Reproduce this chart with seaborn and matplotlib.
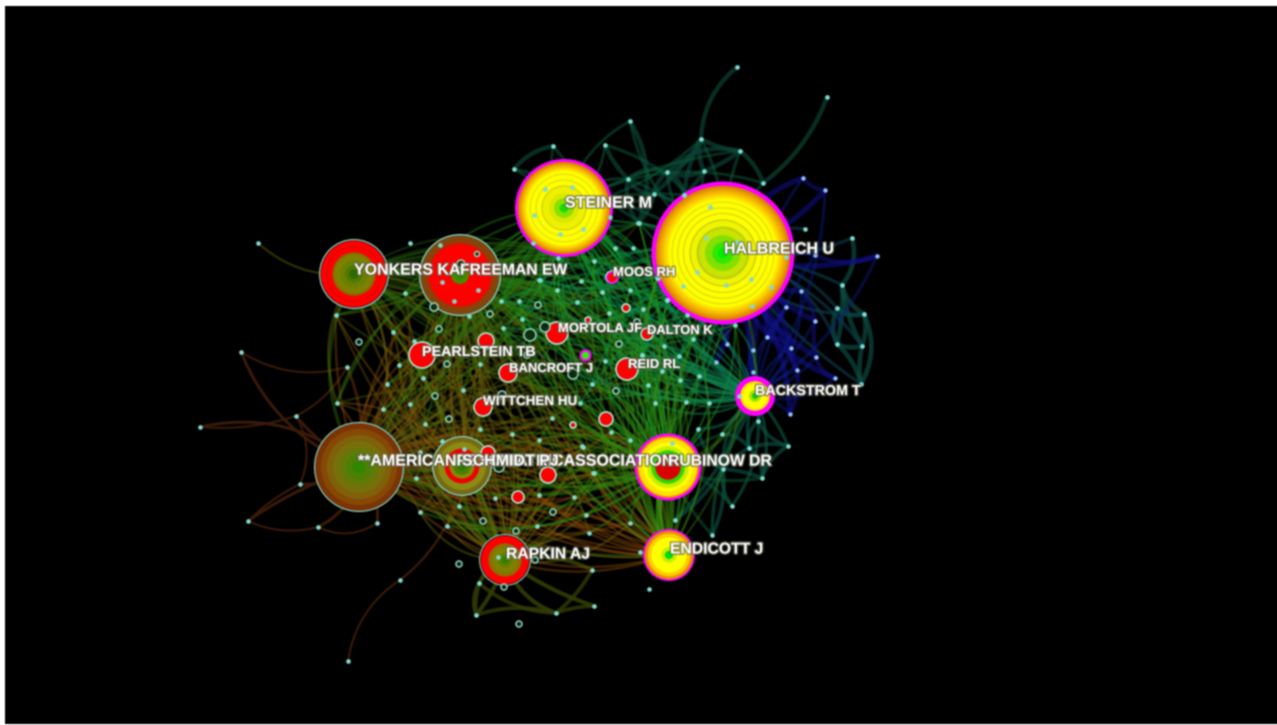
import numpy as np
import pandas as pd
import matplotlib
matplotlib.use('Agg')
import matplotlib.pyplot as plt
import matplotlib.patheffects as pe
import seaborn as sns

# big nodes
hub_names = ['halbreich', 'steiner', 'yonkers', 'freeman', 'american',
             'schmidt', 'rapkin', 'rubinow', 'endicott', 'backstrom']
hub_x = [723, 564, 354, 460, 359, 462, 505, 668, 669, 755]
hub_y = [253, 208, 274, 275, 467, 466, 560, 467, 555, 396]
hub_r = [71.5, 49, 35, 41, 45, 30, 26, 33.5, 26, 20]

MAG = '#ff00ff'
CYN = '#86dcd6'
hub_rings = {
    'halbreich': [(1, MAG), (.94, '#d88400'), (.91, '#e89800'), (.88, '#f2ac00'), (.85, '#f8c000'), (.82, '#fcd400'),
                  (.79, '#ffe800'), (.76, '#ffff00'), (.72, '#dcdc10'), (.705, '#ffff00'), (.64, '#d8d810'),
                  (.625, '#ffff00'), (.56, '#d4d410'), (.545, '#ffff00'), (.47, '#ccd010'), (.45, '#f0f400'),
                  (.37, '#bcd010'), (.34, '#c8e400'), (.25, '#84e000'), (.15, '#30e800'), (.07, '#00ee00')],
    'steiner': [(1, MAG), (.94, '#d88400'), (.91, '#e89800'), (.88, '#f2ac00'), (.85, '#f8c000'), (.82, '#fcd400'),
                (.79, '#ffe800'), (.76, '#ffff00'), (.7, '#dcdc10'), (.68, '#ffff00'), (.58, '#d8d810'),
                (.56, '#ffff00'), (.46, '#c8c810'), (.44, '#eef000'), (.3, '#d8e800'), (.2, '#88e000'), (.09, '#10e000')],
    'yonkers': [(1, CYN), (.965, '#6a0000'), (.94, '#ff0000'), (.8, '#e80000'), (.76, '#ff0000'),
                (.62, '#8a6a00'), (.56, '#808000'), (.4, '#6c8000'), (.25, '#4f7a00'), (.14, '#2f6a00')],
    'freeman': [(1, CYN), (.97, '#7a4a12'), (.88, '#8e4008'), (.78, '#e01000'), (.73, '#ff0000'),
                (.22, '#4a8a00'), (.12, '#2f8a00')],
    'american': [(1, CYN), (.975, '#7a3405'), (.85, '#864805'), (.72, '#80600a'), (.58, '#76700a'),
                 (.42, '#607a08'), (.28, '#4c8004'), (.14, '#2f8800')],
    'schmidt': [(1, CYN), (.96, '#786a14'), (.8, '#8a8a14'), (.58, '#f00000'), (.42, '#8a8a00'),
                (.3, '#4a8000'), (.15, '#2a7800')],
    'rapkin': [(1, CYN), (.96, '#300000'), (.93, '#ff0000'), (.64, '#8a7000'), (.5, '#808000'),
               (.28, '#5c8000'), (.14, '#2f8000')],
    'rubinow': [(1, MAG), (.92, '#f09800'), (.87, '#ffe000'), (.74, '#ffff00'), (.62, '#c8ee00'),
                (.5, '#30d800'), (.38, '#e00000'), (.3, '#d80000')],
    'endicott': [(1, MAG), (.93, '#e89000'), (.82, '#ffcc00'), (.68, '#ffff00'), (.3, '#c8f000'), (.16, '#00e000')],
    'backstrom': [(1, MAG), (.74, '#ffe000'), (.62, '#ffff00'), (.3, '#b0e000'), (.15, '#00d800')],
}

# medium red nodes
red_x = [422, 486, 508, 483, 557, 627, 606, 548, 518, 488, 647, 626, 588, 573, 612]
red_y = [355, 341, 373, 407, 333, 369, 419, 475, 497, 453, 334, 308, 320, 425, 277]
red_r = [13, 8, 9, 9, 11, 11, 7, 8, 6, 7, 6, 4, 3, 3, 6]

# small ring nodes
ring_x = [477, 461, 434, 490, 538, 439, 359, 530, 545, 447, 435, 502, 449, 573, 527, 637, 619, 616,
          499, 553, 483, 516, 459, 535, 504, 519]
ring_y = [254, 264, 307, 314, 305, 329, 342, 335, 327, 364, 396, 395, 419, 374, 355, 322, 344, 391,
          467, 512, 521, 531, 564, 560, 587, 624]
ring_r = [2.5, 4, 4, 3, 3, 3, 3, 6, 5, 3, 3, 4, 3, 5, 3, 3, 3, 3, 5, 3, 3, 3, 3, 3, 3, 3]

# small dots by cluster
top_x = [737, 827, 630, 701, 740, 605, 553, 514, 667, 704, 628, 763, 654, 684, 638, 615, 633]
top_y = [67, 97, 121, 139, 151, 145, 146, 169, 172, 171, 179, 183, 194, 195, 223, 248, 248]
top_links = [(0, 3), (1, 11), (3, 4), (3, 8), (3, 9), (4, 9), (4, 8), (8, 9), (4, 11), (3, 13), (8, 13),
             (8, 12), (9, 13), (10, 12), (10, 14), (12, 14), (5, 10), (2, 14), (6, 7), (3, 12), (8, 10)]

blue_x = [803, 825, 815, 801, 786, 815, 767, 791, 816, 797, 835, 790, 727, 753, 716, 877, 753]
blue_y = [178, 190, 255, 291, 307, 321, 337, 348, 357, 370, 378, 414, 344, 350, 362, 256, 372]

tealr_x = [805, 852, 842, 864, 862, 861, 837, 837]
tealr_y = [229, 238, 285, 314, 346, 384, 344, 308]
tealr_links = [(2, 3), (3, 4), (4, 5), (3, 5), (6, 4), (2, 6), (7, 3), (7, 6), (6, 5), (2, 4), (1, 2)]

back_x = [758, 749, 788, 723, 762, 722, 698, 732, 712, 675]
back_y = [421, 448, 446, 469, 478, 434, 429, 506, 535, 520]
back_links = [(0, 2), (1, 2), (1, 3), (1, 4), (2, 4), (3, 4), (0, 1), (3, 7), (3, 8), (9, 3), (5, 1), (6, 3)]

center_top_x = [658, 642, 609, 577, 519, 501, 522, 503, 540, 557, 581, 594, 602, 630, 643, 664, 693, 687,
                679, 642, 605, 662, 680, 699, 592, 648, 580, 655, 686, 709, 667, 735, 657, 639, 558, 539]
center_top_y = [278, 355, 313, 302, 301, 301, 319, 328, 280, 290, 281, 261, 292, 290, 309, 346, 339, 315,
                356, 355, 361, 371, 380, 376, 384, 385, 403, 403, 402, 403, 300, 325, 278, 223, 258, 280]

center_left_x = [442, 478, 454, 405, 469, 393, 414, 399, 447, 480, 423, 387, 463, 410, 383, 425, 336, 337]
center_left_y = [282, 290, 301, 293, 316, 332, 341, 365, 364, 364, 378, 384, 390, 404, 409, 424, 315, 403]

center_low_x = [480, 512, 552, 539, 583, 442, 464, 420, 593, 416, 611, 630, 582, 569, 594, 495, 539, 574,
                459, 586, 420, 447, 537, 589, 630]
center_low_y = [429, 434, 418, 440, 447, 441, 449, 452, 473, 478, 432, 440, 446, 461, 473, 498, 495, 497,
                506, 515, 512, 526, 526, 533, 523]

olive_x = [498, 479, 476, 556, 592, 594, 640, 649]
olive_y = [557, 583, 615, 613, 570, 606, 552, 589]

far_x = [258, 241, 347, 296, 200, 300, 248, 318, 377, 400, 348]
far_y = [243, 352, 367, 416, 427, 484, 521, 527, 523, 580, 661]

# dots lying on top of the big circles
over_x = [545, 572, 534, 560, 583, 610, 533, 710, 706, 697, 683, 726, 751, 771, 752, 786, 737, 684, 667,
          410, 440, 672, 739]
over_y = [189, 187, 215, 234, 229, 217, 243, 207, 238, 272, 286, 285, 279, 287, 306, 257, 242, 195, 300,
          243, 245, 443, 396]

label_text = ['HALBREICH U', 'STEINER M', 'YONKERS KA', 'FREEMAN EW', '**AMERICANPSYCHIATRICASSOCIATION',
              'SCHMIDT PJ', 'RUBINOW DR', 'ENDICOTT J', 'RAPKIN AJ', 'BACKSTROM T', 'MOOS RH', 'MORTOLA JF',
              'DALTON K', 'PEARLSTEIN TB', 'BANCROFT J', 'REID RL', 'WITTCHEN HU']
label_x = [724, 565, 354, 460, 358, 462, 668, 670, 506, 755, 613, 558, 647, 422, 509, 628, 483]
label_y = [249, 203, 270, 270, 461, 461, 461, 549, 554, 391, 273, 329, 331, 352, 369, 365, 402]
label_size = [11.5, 11.5, 11.5, 11.3, 11.5, 11.5, 11.3, 11.3, 11.3, 10.3, 9.4, 9.4, 9.3, 10.3, 9.4, 9.4, 9.7]

bends = [.22, -.15, .1, -.25, .18, -.08, .28]
hub_pos = {n: (x, y) for n, x, y in zip(hub_names, hub_x, hub_y)}


def curve(p, q, bend):
    t = np.linspace(0, 1, 18)
    p, q = np.array(p, float), np.array(q, float)
    d = q - p
    c = (p + q) / 2 + bend * np.array([-d[1], d[0]])
    return (1-t)**2 * p[0] + 2*t*(1-t) * c[0] + t**2 * q[0], (1-t)**2 * p[1] + 2*t*(1-t) * c[1] + t**2 * q[1]


def draw_edges(ax, pairs, color, width, alpha):
    rows = []
    for i, (p, q) in enumerate(pairs):
        x, y = curve(p, q, bends[i % len(bends)])
        rows.append(pd.DataFrame({'x': x, 'y': y, 'edge': i, 'step': range(len(x))}))
    df = pd.concat(rows)
    sns.lineplot(data=df, x='x', y='y', units='edge', estimator=None, sort=False, color=color,
                 linewidth=width, alpha=alpha, legend=False, ax=ax)


def to_hub(xs, ys, hub):
    return [((x, y), hub_pos[hub]) for x, y in zip(xs, ys)]


def local(xs, ys, links):
    return [((xs[a], ys[a]), (xs[b], ys[b])) for a, b in links]


sns.set_theme(style='white')
plt.rcParams['font.family'] = ['Liberation Sans', 'DejaVu Sans']

fig = plt.figure(figsize=(12.77, 7.25), dpi=100, facecolor='white')
ax = fig.add_axes([5/1277, 1/725, 1272/1277, 718/725], facecolor='black')

# outer sparse arcs
draw_edges(ax, local(far_x, far_y, [(1, 2), (2, 3), (4, 3), (3, 5), (6, 7), (6, 5), (7, 8), (9, 10)]), '#3a1a08', 1.5, 1)
draw_edges(ax, to_hub(far_x[1:9], far_y[1:9], 'american'), '#3a1a08', 2.2, 1)
draw_edges(ax, to_hub(far_x[:1], far_y[:1], 'yonkers'), '#2a3000', 1.7, 1)
draw_edges(ax, to_hub(far_x[9:10], far_y[9:10], 'schmidt'), '#3a1a08', 1.7, 1)
draw_edges(ax, local(top_x, top_y, top_links), '#0c4234', 3.2, .7)
draw_edges(ax, to_hub(top_x[2:], top_y[2:], 'halbreich'), '#0d5a42', 2.4, .5)
draw_edges(ax, to_hub(top_x[2:8] + top_x[10:], top_y[2:8] + top_y[10:], 'steiner'), '#0d5a3a', 2.2, .5)
draw_edges(ax, local(tealr_x, tealr_y, tealr_links), '#0c4a40', 3.4, .7)
draw_edges(ax, to_hub(tealr_x, tealr_y, 'halbreich'), '#0c3f50', 2.4, .6)
draw_edges(ax, to_hub(blue_x, blue_y, 'halbreich'), '#10108a', 4, .55)
draw_edges(ax, to_hub(blue_x, blue_y, 'backstrom'), '#0f1f90', 2.4, .4)
draw_edges(ax, local(blue_x, blue_y, [(0, 1), (3, 5), (5, 8), (6, 7), (7, 9), (4, 6), (8, 10), (2, 15), (9, 11)]), '#14108a', 3.2, .5)
draw_edges(ax, local(back_x, back_y, back_links), '#0c4a3c', 2.8, .7)
draw_edges(ax, to_hub(back_x, back_y, 'backstrom'), '#0d5a44', 2.4, .6)
draw_edges(ax, to_hub(back_x[3:], back_y[3:], 'rubinow'), '#0d5a30', 2.4, .5)
draw_edges(ax, to_hub(olive_x[:6], olive_y[:6], 'rapkin'), '#3a4a06', 3, .75)
draw_edges(ax, local(olive_x, olive_y, [(1, 2), (2, 3), (3, 4), (2, 0), (1, 3), (3, 5)]), '#343f06', 2.8, .75)

# dense middle of the map
draw_edges(ax, to_hub(center_low_x, center_low_y, 'american'), '#8a4a08', 1.8, .42)
draw_edges(ax, to_hub(center_low_x, center_low_y, 'rapkin'), '#6a6a08', 1.8, .42)
draw_edges(ax, to_hub(center_low_x, center_low_y, 'endicott'), '#96500a', 1.8, .42)
draw_edges(ax, to_hub(center_low_x, center_low_y, 'schmidt'), '#8a4a08', 1.6, .38)
draw_edges(ax, to_hub(center_low_x, center_low_y, 'rubinow'), '#2a8a10', 1.8, .42)
draw_edges(ax, to_hub(center_low_x, center_low_y, 'freeman'), '#6a6a08', 1.6, .36)
draw_edges(ax, to_hub(center_left_x, center_left_y, 'american'), '#8a4a08', 1.8, .42)
draw_edges(ax, to_hub(center_left_x, center_left_y, 'yonkers'), '#6a5a08', 1.8, .45)
draw_edges(ax, to_hub(center_left_x, center_left_y, 'freeman'), '#5a6a08', 1.8, .45)
draw_edges(ax, to_hub(center_left_x, center_left_y, 'schmidt'), '#8a5a08', 1.6, .42)
draw_edges(ax, to_hub(center_left_x, center_left_y, 'rapkin'), '#6a5a08', 1.6, .42)
draw_edges(ax, to_hub(center_left_x, center_left_y, 'steiner'), '#1f7a10', 1.8, .45)
draw_edges(ax, to_hub(center_left_x, center_left_y, 'rubinow'), '#5a6a08', 1.6, .36)
draw_edges(ax, to_hub(center_top_x, center_top_y, 'freeman'), '#2a7a10', 1.7, .45)
draw_edges(ax, to_hub(center_top_x, center_top_y, 'american'), '#5a6010', 1.6, .32)
draw_edges(ax, to_hub(center_top_x, center_top_y, 'yonkers'), '#2a6a10', 1.6, .36)
draw_edges(ax, to_hub(center_top_x, center_top_y, 'steiner'), '#109a30', 1.7, .45)
draw_edges(ax, to_hub(center_top_x, center_top_y, 'halbreich'), '#0f8a40', 2, .45)
draw_edges(ax, to_hub(center_top_x, center_top_y, 'rubinow'), '#1a9a20', 1.7, .45)
draw_edges(ax, to_hub(center_top_x, center_top_y, 'backstrom'), '#0f8a50', 1.8, .45)
draw_edges(ax, to_hub(center_top_x, center_top_y, 'endicott'), '#3a8a10', 1.6, .36)

# links between the big nodes
big_links = [('rubinow', 'backstrom'), ('endicott', 'backstrom'), ('american', 'schmidt'),
             ('american', 'rapkin'), ('american', 'endicott'), ('freeman', 'american'), ('yonkers', 'american'),
             ('freeman', 'rubinow'), ('halbreich', 'backstrom'), ('halbreich', 'rubinow'), ('steiner', 'rubinow'),
             ('american', 'rubinow'), ('yonkers', 'rapkin'), ('schmidt', 'rapkin')]
draw_edges(ax, [(hub_pos[a], hub_pos[b]) for a, b in big_links], '#3f8a10', 2.5, .35)
draw_edges(ax, [(hub_pos['rubinow'], hub_pos['endicott'])], '#3f9a10', 4.5, .7)

# big concentric nodes
ring_rows = []
for name, x, y, r in zip(hub_names, hub_x, hub_y, hub_r):
    for frac, col in hub_rings[name]:
        ring_rows.append({'x': x, 'y': y, 'area': (2 * r * frac * .72) ** 2, 'col': col})
big = pd.DataFrame(ring_rows)
sns.scatterplot(data=big, x='x', y='y', s=big['area'].to_numpy(), hue='col',
                palette={c: c for c in big['col'].unique()}, linewidth=0, legend=False, ax=ax, zorder=5)

# small nodes
dot_x = top_x + tealr_x + back_x + center_top_x + center_left_x + center_low_x + olive_x + far_x + over_x
dot_y = top_y + tealr_y + back_y + center_top_y + center_left_y + center_low_y + olive_y + far_y + over_y
sns.scatterplot(x=dot_x, y=dot_y, s=11, color='#80dcd4', linewidth=0, ax=ax, zorder=7)
sns.scatterplot(x=blue_x, y=blue_y, s=10, color='#94c4f4', linewidth=0, ax=ax, zorder=7)

sns.scatterplot(x=red_x, y=red_y, s=[(2 * r * .72) ** 2 for r in red_r], color='#ff0000',
                edgecolor='#a8e8d8', linewidth=1.2, ax=ax, zorder=7)
sns.scatterplot(x=ring_x, y=ring_y, s=[(2 * r * .72) ** 2 for r in ring_r], color='#0c2a0c',
                edgecolor='#a0e4d8', linewidth=1.1, alpha=.9, ax=ax, zorder=7)
sns.scatterplot(x=[612], y=[277], s=60, color='#00000000', edgecolor=MAG, linewidth=1.2, ax=ax, zorder=8)
sns.scatterplot(x=[585], y=[355], s=50, color='#30ee10', edgecolor=MAG, linewidth=1.6, ax=ax, zorder=8)

for s, x, y, size in zip(label_text, label_x, label_y, label_size):
    t = ax.text(x, y, s, color='#ffffff', fontsize=size, fontweight='bold', ha='left', va='center', zorder=10)
    t.set_path_effects([pe.withStroke(linewidth=2, foreground='#606050', alpha=.7)])

ax.set_xlim(5, 1277)
ax.set_ylim(724, 6)
ax.set_xlabel('')
ax.set_ylabel('')
ax.set_xticks([])
ax.set_yticks([])
sns.despine(ax=ax, left=True, bottom=True)

fig.savefig('out.png', dpi=100, facecolor='white')

# the source image is an upscaled screenshot, so soften it a little
img = plt.imread('out.png')[:, :, :3]
pad = np.pad(img, ((1, 1), (0, 0), (0, 0)), mode='edge')
img = (pad[:-2] + 2 * pad[1:-1] + pad[2:]) / 4
pad = np.pad(img, ((0, 0), (1, 1), (0, 0)), mode='edge')
img = (pad[:, :-2] + 2 * pad[:, 1:-1] + pad[:, 2:]) / 4
plt.imsave('out.png', np.clip(img, 0, 1))
